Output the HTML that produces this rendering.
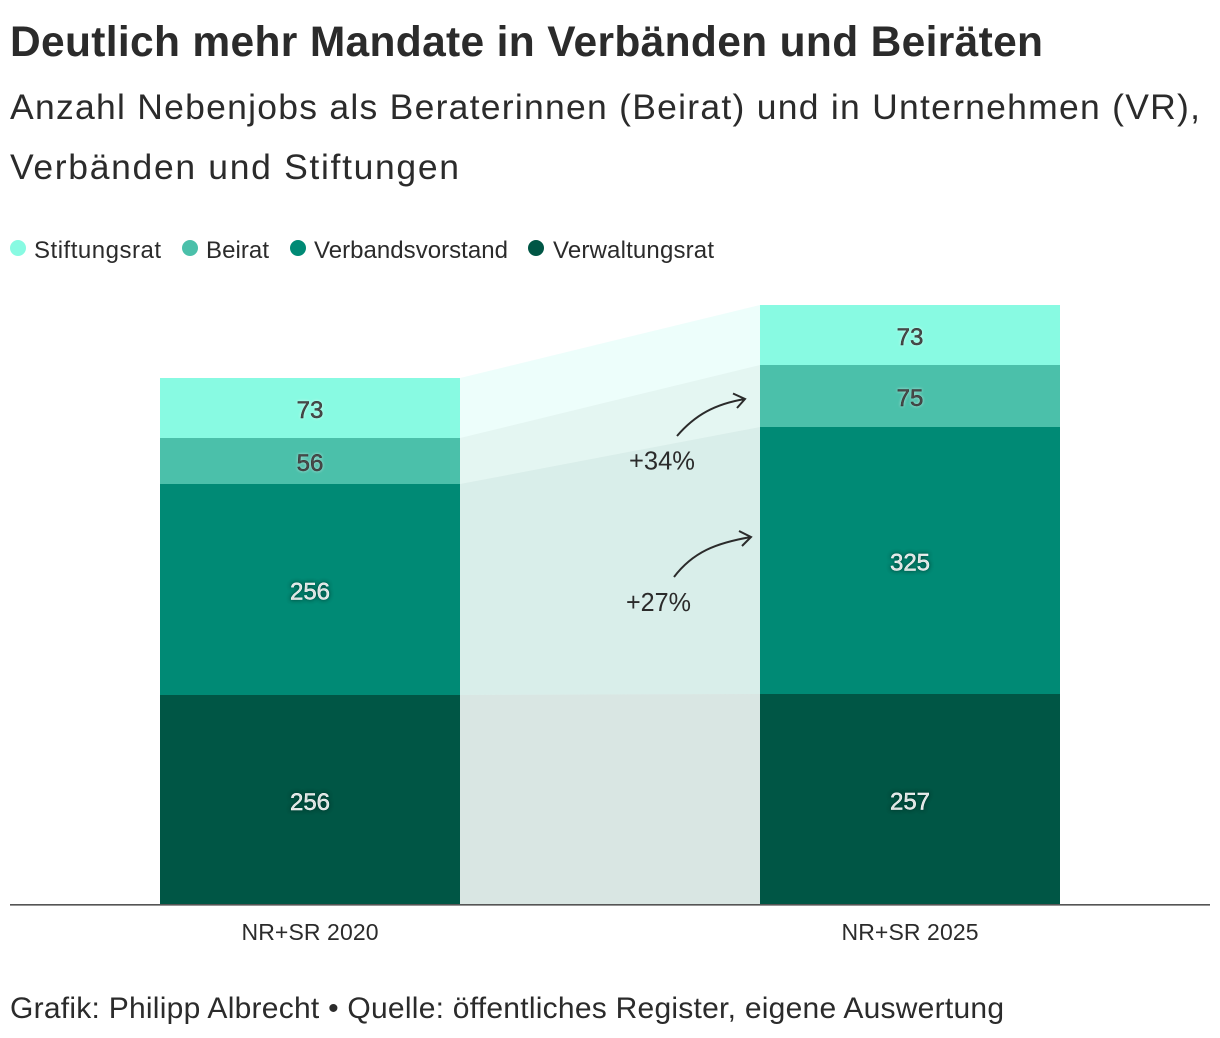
<!DOCTYPE html>
<html lang="de">
<head>
<meta charset="utf-8">
<title>Deutlich mehr Mandate in Verbänden und Beiräten</title>
<style>
html,body{margin:0;padding:0;background:#fff;width:1220px;height:1038px;overflow:hidden}
svg{display:block;font-family:"Liberation Sans",sans-serif}
text{fill:#2b2b2b}
.value{font-size:24px;text-anchor:middle;stroke-width:.45px}
.value.light{fill:#fff;stroke:#fff;text-shadow:0 0 4px rgba(0,40,32,.8)}
.value.dark{fill:#333;stroke:#333;text-shadow:0 0 3px rgba(255,255,255,.55)}
</style>
</head>
<body>
<svg id="chart" width="1220" height="1038" viewBox="0 0 1220 1038" xmlns="http://www.w3.org/2000/svg">
  <text x="10" y="56" font-size="42.500" font-weight="700" textLength="1033" lengthAdjust="spacing">Deutlich mehr Mandate in Verbänden und Beiräten</text>
  <text x="10" y="119" font-size="35.500" textLength="1190" lengthAdjust="spacing">Anzahl Nebenjobs als Beraterinnen (Beirat) und in Unternehmen (VR),</text>
  <text x="10" y="179" font-size="35.500" textLength="449" lengthAdjust="spacing">Verbänden und Stiftungen</text>

  <g>
    <g>
      <circle cx="18" cy="248" r="8" fill="#88fae2"/>
      <text x="34" y="258" font-size="24" textLength="127" lengthAdjust="spacing">Stiftungsrat</text>
    </g>
    <g>
      <circle cx="190" cy="248" r="8" fill="#4bc0aa"/>
      <text x="206" y="258" font-size="24" textLength="63" lengthAdjust="spacing">Beirat</text>
    </g>
    <g>
      <circle cx="298" cy="248" r="8" fill="#008a75"/>
      <text x="314" y="258" font-size="24" textLength="194" lengthAdjust="spacing">Verbandsvorstand</text>
    </g>
    <g>
      <circle cx="536" cy="248" r="8" fill="#005645"/>
      <text x="553" y="258" font-size="24" textLength="161" lengthAdjust="spacing">Verwaltungsrat</text>
    </g>
  </g>

  <g id="ribbons"></g>
  <g id="bars"></g>
  <g id="values"></g>

  <g>
    <path d="M677 436C695 415 715 404 745 399M733 393.500L745 399L737 408" fill="none" stroke="#2b2b2b" stroke-width="2"/>
    <text x="629" y="469.500" font-size="25.500" textLength="66" lengthAdjust="spacingAndGlyphs">+34%</text>
  </g>
  <g>
    <path d="M674 577C693 552 716 543 751 537M739 531L751 537L742 546" fill="none" stroke="#2b2b2b" stroke-width="2"/>
    <text x="626" y="611" font-size="25.500" textLength="65" lengthAdjust="spacingAndGlyphs">+27%</text>
  </g>

  <line x1="10" x2="1210" y1="904.800" y2="904.800" stroke="#555" stroke-width="1.600"/>
  <g id="xticks"></g>

  <text x="10" y="1018" font-size="30" textLength="994" lengthAdjust="spacing">Grafik: Philipp Albrecht • Quelle: öffentliches Register, eigene Auswertung</text>
</svg>
<script>
const categories = ["NR+SR 2020", "NR+SR 2025"];
const seriesNames = ["Verwaltungsrat", "Verbandsvorstand", "Beirat", "Stiftungsrat"];
const verwaltungsrat = [256, 257];
const verbandsvorstand = [256, 325];
const beirat = [56, 75];
const stiftungsrat = [73, 73];

const seriesValues = [verwaltungsrat, verbandsvorstand, beirat, stiftungsrat];
const seriesColors = ["#005645", "#008a75", "#4bc0aa", "#88fae2"];
const labelClasses = ["light", "light", "dark", "dark"];

const NS = "http://www.w3.org/2000/svg";
const baseY = 905;
const pxPerUnit = 0.822;
const barWidth = 300;
const yScale = function (v) { return Math.round(baseY - v * pxPerUnit); };
const xScale = function (i) { return 160 + i * 600; };

const ribbonsG = document.getElementById("ribbons");
const barsG = document.getElementById("bars");
const valuesG = document.getElementById("values");
const ticksG = document.getElementById("xticks");

const running = categories.map(function () { return 0; });

seriesValues.forEach(function (values, s) {
  const lows = running.slice();
  const highs = lows.map(function (low, c) { return low + values[c]; });

  for (let c = 0; c < categories.length - 1; c++) {
    const ribbon = document.createElementNS(NS, "polygon");
    
    
    const x0 = xScale(c) + barWidth;
    const x1 = xScale(c + 1);
    ribbon.setAttribute("points",
      x0 + "," + yScale(highs[c]) + " " + x1 + "," + yScale(highs[c + 1]) + " " +
      x1 + "," + yScale(lows[c + 1]) + " " + x0 + "," + yScale(lows[c]));
    ribbon.setAttribute("fill", seriesColors[s]);
    ribbon.setAttribute("fill-opacity", "0.15");
    ribbonsG.appendChild(ribbon);
  }

  categories.forEach(function (cat, c) {
    const top = yScale(highs[c]);
    const bottom = yScale(lows[c]);

    const bar = document.createElementNS(NS, "rect");
    
    
    bar.setAttribute("x", xScale(c));
    bar.setAttribute("y", top);
    bar.setAttribute("width", barWidth);
    bar.setAttribute("height", bottom - top);
    bar.setAttribute("fill", seriesColors[s]);
    barsG.appendChild(bar);

    const label = document.createElementNS(NS, "text");
    
    
    label.setAttribute("x", xScale(c) + barWidth / 2);
    label.setAttribute("y", (top + bottom) / 2 + 10);
    label.setAttribute("class", "value " + labelClasses[s]);
    label.textContent = values[c];
    valuesG.appendChild(label);
  });

  highs.forEach(function (h, c) { running[c] = h; });
});

categories.forEach(function (cat, c) {
  const tick = document.createElementNS(NS, "text");
  
  
  tick.setAttribute("x", xScale(c) + barWidth / 2);
  tick.setAttribute("y", 940);
  tick.setAttribute("font-size", "23");
  tick.setAttribute("text-anchor", "middle");
  tick.setAttribute("textLength", "137");
  tick.setAttribute("lengthAdjust", "spacing");
  tick.textContent = cat;
  ticksG.appendChild(tick);
});
</script>
</body>
</html>
